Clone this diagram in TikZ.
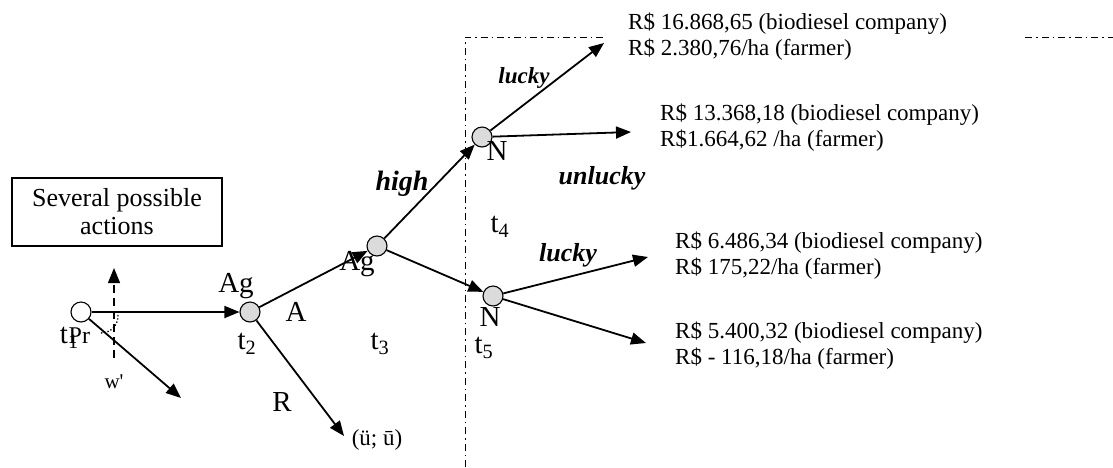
\documentclass[tikz,border=0pt]{standalone}
\usepackage{fontspec}
\setmainfont{Liberation Serif}
\usetikzlibrary{arrows.meta}
\begin{document}
\begin{tikzpicture}[x=1pt,y=-1pt,
  conn/.style={line width=1.8pt,-{Triangle[length=15pt,width=12pt]}},
  gnode/.style={circle,draw,line width=1.1pt,fill=gray!28,minimum size=20pt,inner sep=0pt},
  wnode/.style={circle,draw,line width=1.1pt,fill=white,minimum size=20pt,inner sep=0pt},
  big/.style={font=\fontsize{29}{31}\selectfont,inner sep=0pt},
  lbl/.style={font=\bfseries\itshape\fontsize{26}{28}\selectfont,inner sep=0pt},
  pay/.style={font=\fontsize{23}{26}\selectfont,align=left,anchor=west,inner sep=0pt},
  dd/.style={line width=1pt,dash pattern=on 7pt off 4pt on 1.5pt off 4pt}]
\useasboundingbox (0,0) rectangle (1113,467);
% box
\node[draw,line width=1.1pt,minimum width=210pt,minimum height=68pt,align=center,
  font=\fontsize{26}{28}\selectfont] (box) at (117,212) {Several possible\\actions};
% nodes
\node[wnode] (s) at (81,312) {};
\node[gnode] (ag1) at (250,312) {};
\node[gnode] (ag2) at (377,246) {};
\node[gnode] (n1) at (482,137) {};
\node[gnode] (n2) at (493,296) {};
% free ends
\coordinate (sup) at (114,268);
\coordinate (sdn) at (114,358);
\coordinate (sd) at (181,398);
\coordinate (r) at (344,436);
\coordinate (l1) at (604,43);
\coordinate (u1) at (631,132);
\coordinate (l2) at (648,257);
\coordinate (u2) at (646,343);
% dashed vertical
\draw[line width=1.3pt,dash pattern=on 8pt off 5pt,-{Triangle[length=15pt,width=12pt]}] (sdn) -- (sup);
% connectors
\draw[conn] (s) -- (ag1);
\draw[conn] (s) -- (sd);
\draw[line width=1.3pt,dotted] (118,315) .. controls (118,327) and (110,333) .. (100,333);
\draw[conn] (ag1) -- (r);
\draw[conn] (ag1) -- (ag2);
\draw[conn] (ag2) -- (n1);
\draw[conn] (ag2) -- (n2);
\draw[conn] (n1) -- (l1);
\draw[conn] (n1) -- (u1);
\draw[conn] (n2) -- (l2);
\draw[conn] (n2) -- (u2);
% dash-dot boundary
\coordinate (c0) at (465,467);
\coordinate (c1) at (465,37);
\coordinate (c2) at (603,37);
\coordinate (c3) at (1025,37);
\coordinate (c4) at (1113,37);
\draw[dd] (c0) -- (c1) -- (c2);
\draw[dd] (c3) -- (c4);
% labels
\node[inner sep=0pt] (t1) at (75,338) {{\fontsize{29}{31}\selectfont t\textsubscript{1}}\kern-10pt{\fontsize{24}{26}\selectfont Pr}};
\node[font=\fontsize{21}{23}\selectfont,inner sep=0pt] (w) at (114,382) {w\textquotesingle};
\node[big] (agl1) at (236,286) {Ag};
\node[big] (t2) at (247,344) {t\textsubscript{2}};
\node[big] (a) at (296,312) {A};
\node[big] (rl) at (282,402) {R};
\node[font=\fontsize{23}{25}\selectfont,inner sep=0pt] (uu) at (377,440) {(ü; ū)};
\node[big] (agl2) at (357,264) {Ag};
\node[big] (t3) at (380,344) {t\textsubscript{3}};
\node[big] (nl1) at (497,151) {N};
\node[big] (nl2) at (490,317) {N};
\node[big] (t4) at (500,227) {t\textsubscript{4}};
\node[big] (t5) at (484,348) {t\textsubscript{5}};
\node[lbl,font=\bfseries\itshape\fontsize{28}{30}\selectfont] (high) at (402,184) {high};
\node[lbl,font=\bfseries\itshape\fontsize{23}{25}\selectfont] (lk1) at (524,78) {lucky};
\node[lbl] (ul1) at (602,178) {unlucky};
\node[lbl] (lk2) at (568,255) {lucky};
% payoffs
\node[pay] (p1) at (628,37) {R\$ 16.868,65 (biodiesel company)\\R\$ 2.380,76/ha (farmer)};
\node[pay] (p2) at (660,128) {R\$ 13.368,18 (biodiesel company)\\R\$1.664,62 /ha (farmer)};
\node[pay] (p3) at (675,256) {R\$ 6.486,34 (biodiesel company)\\R\$ 175,22/ha (farmer)};
\node[pay] (p4) at (675,346) {R\$ 5.400,32 (biodiesel company)\\R\$ - 116,18/ha (farmer)};
\end{tikzpicture}
\end{document}
